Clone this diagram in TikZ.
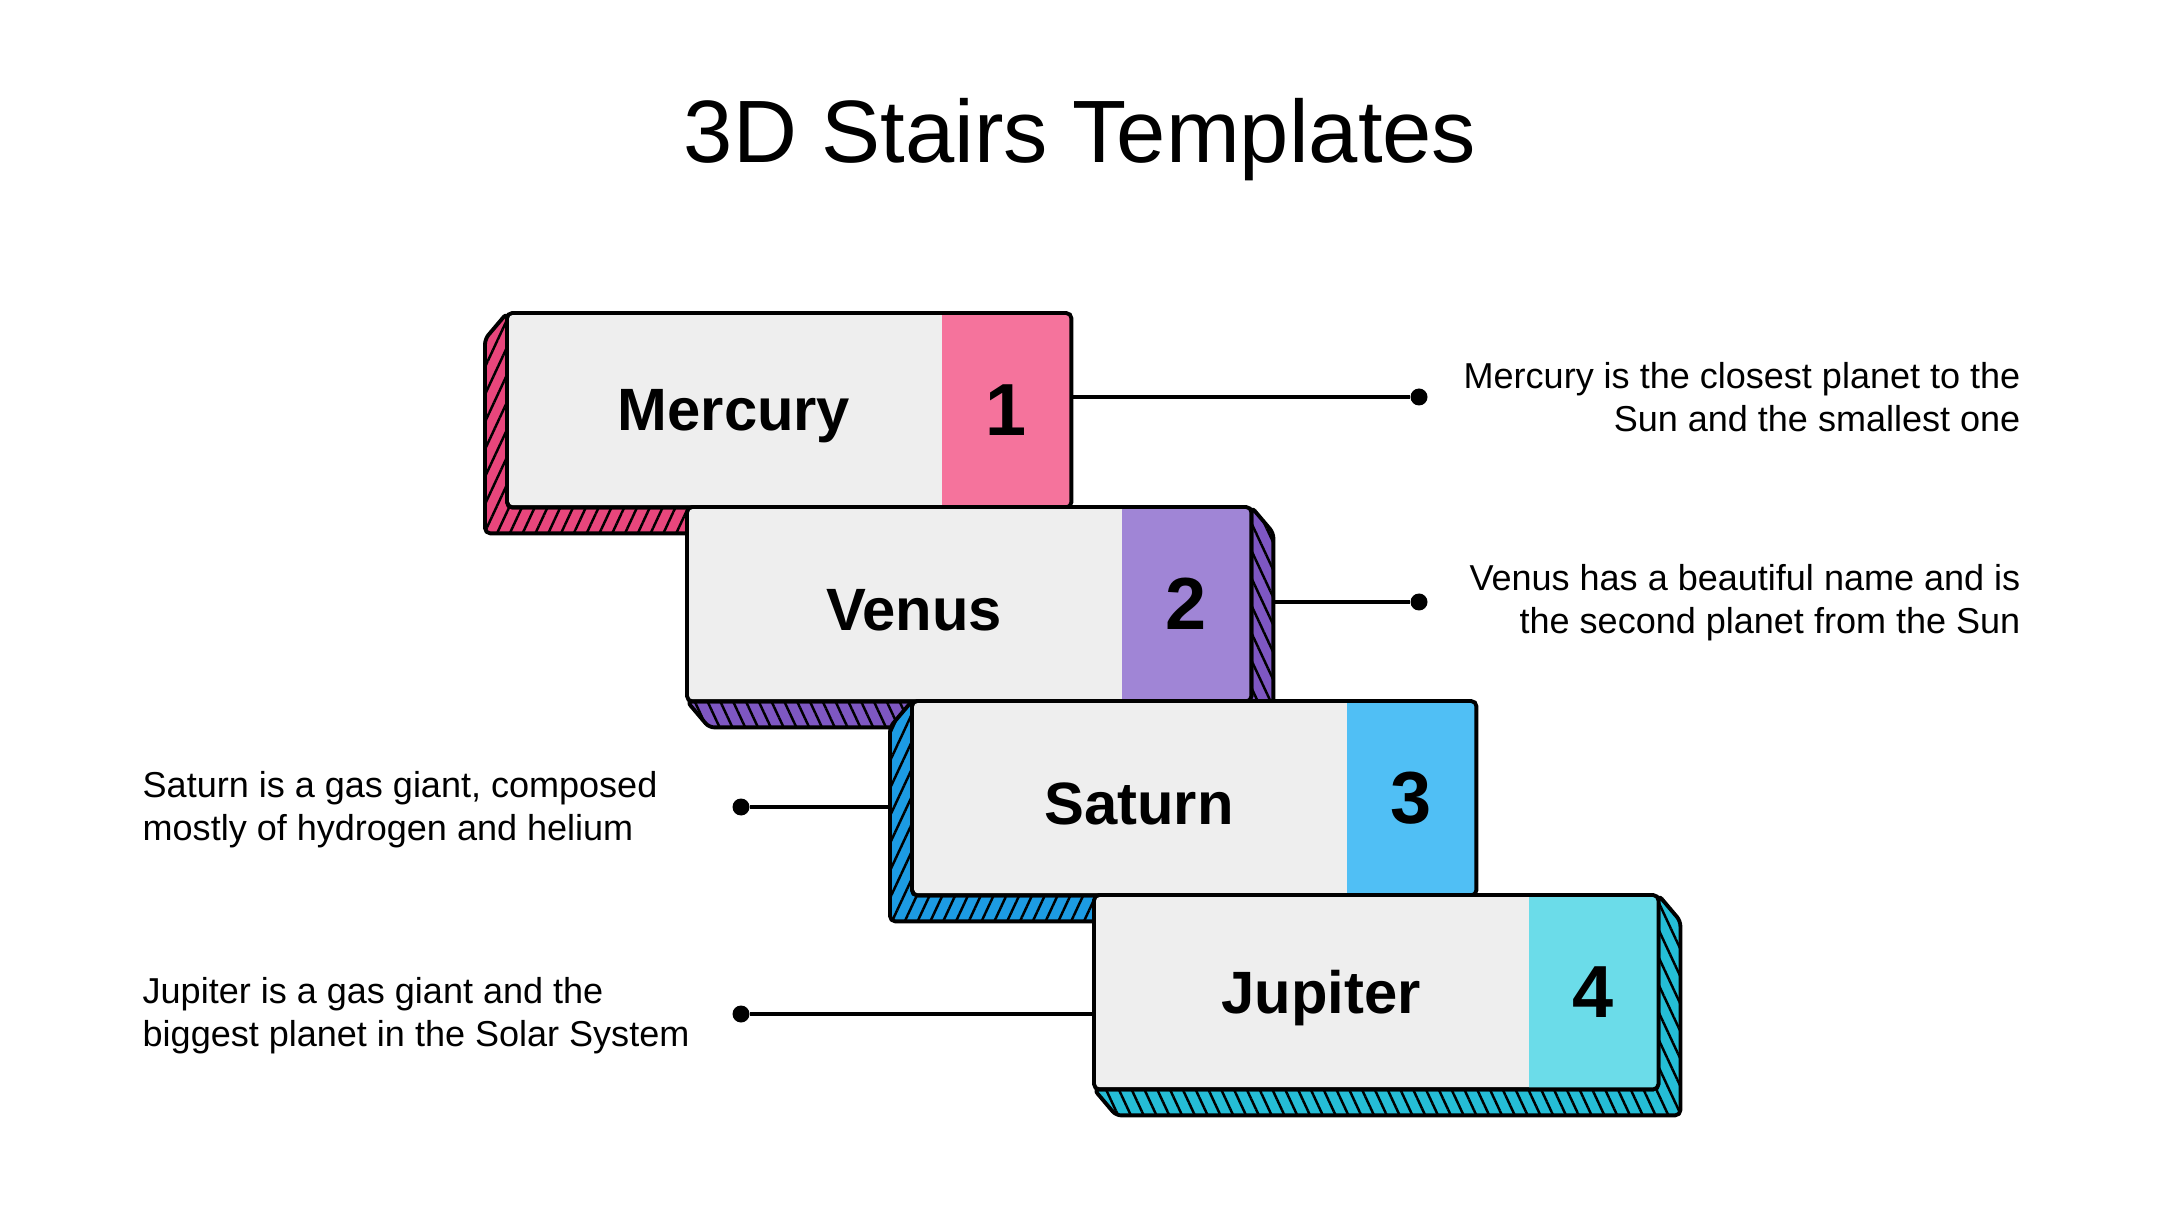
\documentclass[tikz,border=0pt]{standalone}
\usepackage{fontspec}
\setmainfont{Liberation Sans}
\usepackage{xcolor}
\usetikzlibrary{positioning,calc,patterns.meta}

\definecolor{facegray}{HTML}{EEEEEE}
\definecolor{mercblock}{HTML}{F5739C}
\definecolor{mercside}{HTML}{E8467C}
\definecolor{venblock}{HTML}{A085D6}
\definecolor{venside}{HTML}{7E57C2}
\definecolor{satblock}{HTML}{50BFF5}
\definecolor{satside}{HTML}{1C9BE3}
\definecolor{jupblock}{HTML}{6BDCE9}
\definecolor{jupside}{HTML}{25BDD6}

\begin{document}
\begin{tikzpicture}[
  face/.style={rectangle,fill=facegray,minimum width=5.63cm,minimum height=1.93cm,anchor=north west,inner sep=0pt},
  numblock/.style={rectangle,minimum width=1.29cm,minimum height=1.93cm,anchor=north east,inner sep=0pt,font=\bfseries\fontsize{21}{24}\selectfont},
  planet/.style={inner sep=0pt,xshift=0.1cm,yshift=-0.06cm,font=\bfseries\fontsize{17}{20}\selectfont},
  rim/.style={draw=black,line width=1.1pt,rounded corners=1.5pt},
  hatchL/.style={draw=black,line width=1.1pt,line join=round,rounded corners=1.5pt,postaction={pattern color=black,pattern={Lines[angle=65,distance=3.3pt,line width=.7pt]}}},
  hatchR/.style={draw=black,line width=1.1pt,line join=round,rounded corners=1.5pt,postaction={pattern color=black,pattern={Lines[angle=115,distance=3.3pt,line width=.7pt]}}},
  dot/.style={circle,fill=black,minimum size=0.17cm,inner sep=0pt},
  link/.style={draw=black,line width=0.95pt},
  desc/.style={inner sep=0pt,font=\fontsize{10.25}{12.3}\selectfont}
]
  \useasboundingbox (0,0) rectangle (21.6,12.15);

  \node[anchor=base,font=\fontsize{25.2}{30}\selectfont] (title) at (10.8,10.52) {3D Stairs Templates};

  % Mercury
  \node[face] (mercury) at (5.07,9.02) {};
  \draw[hatchL,fill=mercside] (mercury.north west) -- ++(-0.22,-0.26) |- ([shift={(-0.22,-0.26)}]mercury.south east) -- (mercury.south east) -- (mercury.south west) -- cycle;
  \node[numblock,fill=mercblock] (n1) at (mercury.north east) {1};
  \node[planet] (l1) at ($(mercury.west)!0.5!(n1.west)$) {Mercury};
  \draw[rim] (mercury.north west) rectangle (mercury.south east);

  % Venus
  \node[face] (venus) at (6.87,7.08) {};
  \draw[hatchR,fill=venside] (venus.south west) -- ++(0.22,-0.26) -| ([shift={(0.22,-0.26)}]venus.north east) -- (venus.north east) -- (venus.south east) -- cycle;
  \node[numblock,fill=venblock] (n2) at (venus.north east) {2};
  \node[planet] (l2) at ($(venus.west)!0.5!(n2.west)$) {Venus};
  \draw[rim] (venus.north west) rectangle (venus.south east);

  % Saturn
  \node[face] (saturn) at (9.12,5.14) {};
  \draw[hatchL,fill=satside] (saturn.north west) -- ++(-0.22,-0.26) |- ([shift={(-0.22,-0.26)}]saturn.south east) -- (saturn.south east) -- (saturn.south west) -- cycle;
  \node[numblock,fill=satblock] (n3) at (saturn.north east) {3};
  \node[planet] (l3) at ($(saturn.west)!0.5!(n3.west)$) {Saturn};
  \draw[rim] (saturn.north west) rectangle (saturn.south east);

  % Jupiter
  \node[face] (jupiter) at (10.94,3.20) {};
  \draw[hatchR,fill=jupside] (jupiter.south west) -- ++(0.22,-0.26) -| ([shift={(0.22,-0.26)}]jupiter.north east) -- (jupiter.north east) -- (jupiter.south east) -- cycle;
  \node[numblock,fill=jupblock] (n4) at (jupiter.north east) {4};
  \node[planet] (l4) at ($(jupiter.west)!0.5!(n4.west)$) {Jupiter};
  \draw[rim] (jupiter.north west) rectangle (jupiter.south east);

  % connectors and texts
  \node[dot] (d1) at (14.19,8.18) {};
  \node[dot] (d2) at (14.19,6.13) {};
  \node[dot] (d3) at (7.41,4.08) {};
  \node[dot] (d4) at (7.41,2.01) {};

  \draw[link] (d1) -- (d1 -| mercury.east);
  \draw[link] (d2) -- ([xshift=0.22cm]d2 -| venus.east);
  \draw[link] (d3) -- ([xshift=-0.22cm]d3 -| saturn.west);
  \draw[link] (d4) -- (d4 -| jupiter.west);

  \node[desc,align=right,anchor=east] (t1) at (20.21,8.18) {Mercury is the closest planet to the\\Sun and the smallest one};
  \node[desc,align=right,anchor=east] (t2) at (20.21,6.12) {Venus has a beautiful name and is\\the second planet from the Sun};
  \node[desc,align=left,anchor=west] (t3) at (1.42,4.05) {Saturn is a gas giant, composed\\mostly of hydrogen and helium};
  \node[desc,align=left,anchor=west] (t4) at (1.42,1.99) {Jupiter is a gas giant and the\\biggest planet in the Solar System};
\end{tikzpicture}
\end{document}
